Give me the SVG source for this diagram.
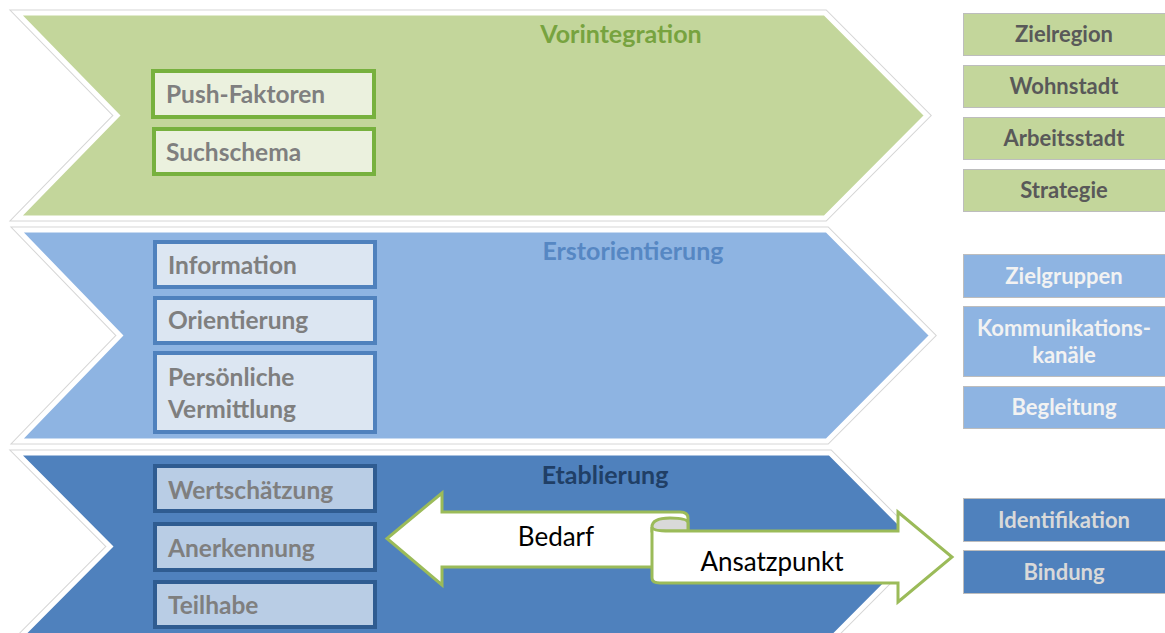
<svg xmlns="http://www.w3.org/2000/svg" width="1165" height="633" viewBox="0 0 1165 633">
  <style>
    .halo { fill: none; stroke: #d6d6d6; stroke-width: 7; stroke-linejoin: miter; }
    .band { stroke: #ffffff; stroke-width: 5; stroke-linejoin: miter; }
    .title { font-family: Lato, "Open Sans", sans-serif; font-weight: bold; font-size: 25px; text-anchor: middle; }
    .item { font-family: Lato, "Open Sans", sans-serif; font-weight: bold; font-size: 24.5px; fill: #7f7f7f; }
    .side { font-family: Lato, "Open Sans", sans-serif; font-weight: bold; font-size: 22px; text-anchor: middle; }
    .g-box { fill: #ebf1de; stroke: #77b13e; stroke-width: 4; }
    .b-box { fill: #dce6f2; stroke: #4f81bd; stroke-width: 4; }
    .d-box { fill: #b9cde5; stroke: #2f5c91; stroke-width: 4; }
    .side-box { stroke: #bdbdbd; stroke-width: 1; }
    .ribbon { fill: #ffffff; stroke: #9bbb59; stroke-width: 3; stroke-linejoin: miter; }
    .label { font-family: Lato, "Open Sans", sans-serif; font-size: 26px; fill: #000000; text-anchor: middle; }
  </style>

  <!-- phase 1: Vorintegration -->
  <g id="phase-vorintegration">
    <polygon class="halo" points="17,13 825,13 927,115.5 825,218 17,218 117,115.5"/>
    <polygon class="band" fill="#c3d69b" points="17,13 825,13 927,115.5 825,218 17,218 117,115.5"/>
    <text class="title" x="621" y="43" fill="#77a33f">Vorintegration</text>
  </g>
  <g id="push-faktoren">
    <rect class="g-box" x="153" y="71" width="221" height="46"/>
    <text class="item" x="166" y="103">Push-Faktoren</text>
  </g>
  <g id="suchschema">
    <rect class="g-box" x="154" y="129" width="220" height="45"/>
    <text class="item" x="166" y="161">Suchschema</text>
  </g>

  <!-- phase 2: Erstorientierung -->
  <g id="phase-erstorientierung">
    <polygon class="halo" points="18,230 827,230 932,335.5 827,441 18,441 120,335.5"/>
    <polygon class="band" fill="#8eb4e2" points="18,230 827,230 932,335.5 827,441 18,441 120,335.5"/>
    <text class="title" x="633" y="260" fill="#5687c3">Erstorientierung</text>
  </g>
  <g id="information">
    <rect class="b-box" x="155" y="242" width="220" height="45"/>
    <text class="item" x="168" y="274">Information</text>
  </g>
  <g id="orientierung">
    <rect class="b-box" x="155" y="298" width="220" height="45"/>
    <text class="item" x="168" y="329">Orientierung</text>
  </g>
  <g id="persoenliche-vermittlung">
    <rect class="b-box" x="155" y="353" width="220" height="79"/>
    <text class="item" x="168" y="386">Persönliche</text>
    <text class="item" x="168" y="418">Vermittlung</text>
  </g>

  <!-- phase 3: Etablierung -->
  <g id="phase-etablierung">
    <polygon class="halo" points="17,453 830,453 923,546.5 830,640 17,640 110,546.5"/>
    <polygon class="band" fill="#4f81bd" points="17,453 830,453 923,546.5 830,640 17,640 110,546.5"/>
    <text class="title" x="605" y="484" fill="#203f66">Etablierung</text>
  </g>
  <g id="wertschaetzung">
    <rect class="d-box" x="155" y="466" width="220" height="45"/>
    <text class="item" x="168" y="499">Wertschätzung</text>
  </g>
  <g id="anerkennung">
    <rect class="d-box" x="155" y="524" width="220" height="46"/>
    <text class="item" x="168" y="557">Anerkennung</text>
  </g>
  <g id="teilhabe">
    <rect class="d-box" x="155" y="582" width="220" height="45"/>
    <text class="item" x="168" y="614">Teilhabe</text>
  </g>

  <!-- side column -->
  <g id="zielregion">
    <rect class="side-box" x="963.5" y="13.5" width="203" height="42" fill="#c3d69b"/>
    <text class="side" x="1064" y="42" fill="#595959">Zielregion</text>
  </g>
  <g id="wohnstadt">
    <rect class="side-box" x="963.5" y="65.5" width="203" height="42" fill="#c3d69b"/>
    <text class="side" x="1064" y="94" fill="#595959">Wohnstadt</text>
  </g>
  <g id="arbeitsstadt">
    <rect class="side-box" x="963.5" y="117.5" width="203" height="42" fill="#c3d69b"/>
    <text class="side" x="1064" y="146" fill="#595959">Arbeitsstadt</text>
  </g>
  <g id="strategie">
    <rect class="side-box" x="963.5" y="169.5" width="203" height="42" fill="#c3d69b"/>
    <text class="side" x="1064" y="198" fill="#595959">Strategie</text>
  </g>
  <g id="zielgruppen">
    <rect class="side-box" x="963.5" y="254.5" width="203" height="43" fill="#8eb4e2"/>
    <text class="side" x="1064" y="284" fill="#f2f2f2">Zielgruppen</text>
  </g>
  <g id="kommunikationskanaele">
    <rect class="side-box" x="963.5" y="306.5" width="203" height="70" fill="#8eb4e2"/>
    <text class="side" x="1064" y="336" fill="#f2f2f2">Kommunikations-</text>
    <text class="side" x="1064" y="363" fill="#f2f2f2">kanäle</text>
  </g>
  <g id="begleitung">
    <rect class="side-box" x="963.5" y="386.5" width="203" height="42" fill="#8eb4e2"/>
    <text class="side" x="1064" y="415" fill="#f2f2f2">Begleitung</text>
  </g>
  <g id="identifikation">
    <rect class="side-box" x="963.5" y="498.5" width="203" height="43" fill="#4f81bd"/>
    <text class="side" x="1064" y="528" fill="#d9d9d9">Identifikation</text>
  </g>
  <g id="bindung">
    <rect class="side-box" x="963.5" y="550.5" width="203" height="43" fill="#4f81bd"/>
    <text class="side" x="1064" y="580" fill="#d9d9d9">Bindung</text>
  </g>

  <!-- connectors: two-way ribbon arrow -->
  <g id="connectors">
    <path class="ribbon" d="M 680 512 L 442 512 L 442 493 L 387 538.5 L 442 585 L 442 567 L 660 567 L 660 530 L 688 530 L 688 518 Q 688 512 680 512 Z"/>
    <path d="M 652 527 Q 652 518 670 518 Q 688 518 688 523 L 688 531 L 652 531 Z" fill="#d9d9d9" stroke="#9bbb59" stroke-width="3"/>
    <path class="ribbon" d="M 652 527 Q 652 531 670 531 L 898 531 L 898 512 L 952 557 L 898 602 L 898 583 L 660 583 Q 652 583 652 578 Z"/>
    <text class="label" x="556" y="546">Bedarf</text>
    <text class="label" x="772" y="571">Ansatzpunkt</text>
  </g>
</svg>
